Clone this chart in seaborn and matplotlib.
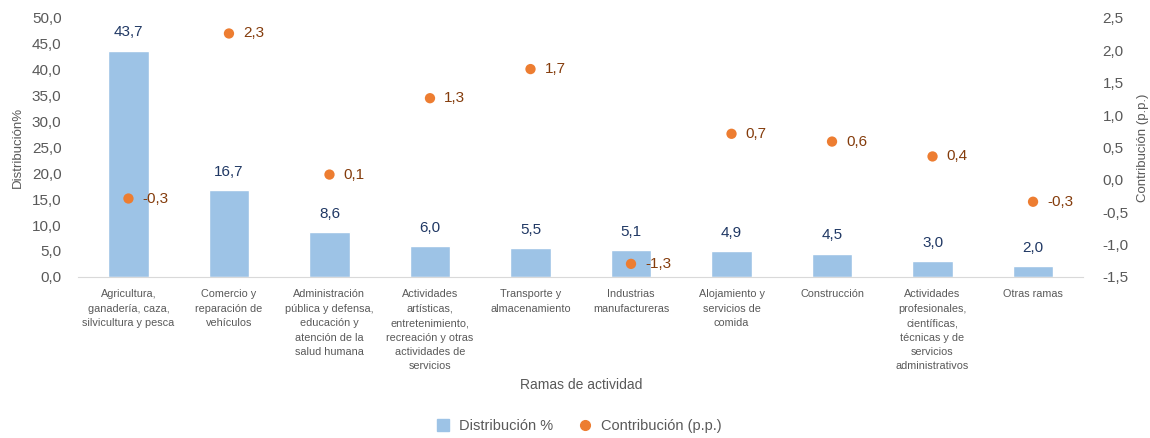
import matplotlib
matplotlib.use("Agg")
import matplotlib.pyplot as plt
from matplotlib.lines import Line2D
import seaborn as sns
import pandas as pd

# data
ramas = [
    "Agricultura,\nganadería, caza,\nsilvicultura y pesca",
    "Comercio y\nreparación de\nvehículos",
    "Administración\npública y defensa,\neducación y\natención de la\nsalud humana",
    "Actividades\nartísticas,\nentretenimiento,\nrecreación y otras\nactividades de\nservicios",
    "Transporte y\nalmacenamiento",
    "Industrias\nmanufactureras",
    "Alojamiento y\nservicios de\ncomida",
    "Construcción",
    "Actividades\nprofesionales,\ncientíficas,\ntécnicas y de\nservicios\nadministrativos",
    "Otras ramas",
]
distribucion = [43.7, 16.7, 8.6, 6.0, 5.5, 5.1, 4.9, 4.5, 3.0, 2.0]
contribucion = [-0.29, 2.26, 0.08, 1.26, 1.71, -1.30, 0.71, 0.59, 0.36, -0.34]

df = pd.DataFrame({"rama": ramas, "dist": distribucion, "contrib": contribucion})

sns.set_style("white")
plt.rcParams["font.family"] = ["Liberation Sans", "DejaVu Sans"]

BAR = "#9DC3E6"
DOT = "#ED7D31"
GRAY = "#595959"

fig = plt.figure(figsize=(11.5, 4.38), dpi=100)
ax = fig.add_axes([0.068, 0.368, 0.874, 0.591])

sns.barplot(data=df, x="rama", y="dist", color=BAR, width=0.4,
            saturation=1, ax=ax)
ax.set_ylim(0, 50)
ax.set_yticks([0, 5, 10, 15, 20, 25, 30, 35, 40, 45, 50])
ax.set_yticklabels([f"{v:.1f}".replace(".", ",") for v in ax.get_yticks()],
                   color=GRAY, fontsize=11)
ax.set_xlim(-0.5, len(ramas) - 0.5)
ax.set_xticks(range(len(ramas)))
ax.set_xticklabels(ramas, fontsize=7.8, color=GRAY, linespacing=1.55)
ax.tick_params(axis="x", length=0, pad=9)
ax.tick_params(axis="y", length=0, pad=12)
ax.set_xlabel("Ramas de actividad", color=GRAY, fontsize=10, labelpad=5)
ax.set_ylabel("Distribución%", color=GRAY, fontsize=9.5, labelpad=6)
for s in ["top", "right", "left"]:
    ax.spines[s].set_visible(False)
ax.spines["bottom"].set_color("#D9D9D9")

for i, v in enumerate(distribucion):
    ax.annotate(f"{v:.1f}".replace(".", ","), (i, v), xytext=(0, 8),
                textcoords="offset points", ha="center", va="bottom",
                color="#203864", fontsize=11)

ax2 = ax.twinx()
sns.scatterplot(data=df, x="rama", y="contrib", color=DOT, s=55,
                edgecolor="none", ax=ax2, zorder=3)
ax2.set_ylim(-1.5, 2.5)
ax2.set_yticks([-1.5, -1.0, -0.5, 0, 0.5, 1.0, 1.5, 2.0, 2.5])
ax2.set_yticklabels([f"{v:.1f}".replace(".", ",") for v in ax2.get_yticks()],
                    color=GRAY, fontsize=11)
ax2.tick_params(axis="y", length=0, pad=14)
ax2.set_ylabel("Contribución (p.p.)", color=GRAY, fontsize=9.5, labelpad=6)
for s in ["top", "right", "left", "bottom"]:
    ax2.spines[s].set_visible(False)
ax2.set_xlim(-0.5, len(ramas) - 0.5)

for i, v in enumerate(contribucion):
    ax2.annotate(f"{v:.1f}".replace(".", ","), (i, v), xytext=(10, 0),
                 textcoords="offset points", ha="left", va="center",
                 color="#843C0C", fontsize=11)

handles = [
    Line2D([], [], marker="s", linestyle="none", color=BAR, markersize=8),
    Line2D([], [], marker="o", linestyle="none", color=DOT, markersize=7),
]
fig.legend(handles, ["Distribución %", "Contribución (p.p.)"], loc="lower center",
           bbox_to_anchor=(0.5, -0.018), ncol=2, frameon=False, fontsize=10.5,
           labelcolor=GRAY, handletextpad=0.1, columnspacing=1.2)

fig.savefig("out.png", dpi=100)
